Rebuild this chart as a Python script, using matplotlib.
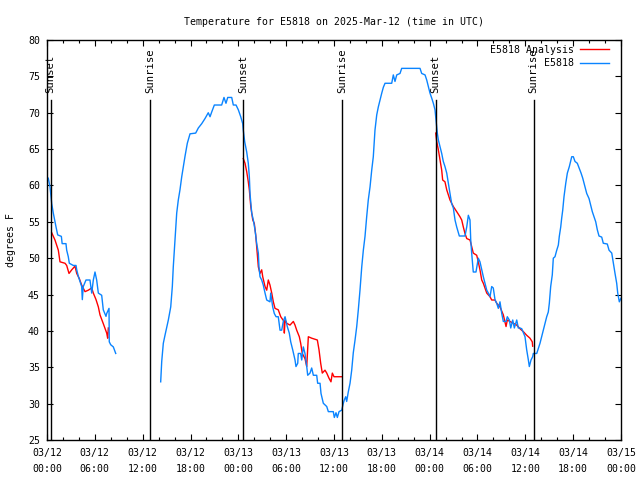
import matplotlib
matplotlib.use("Agg")
import matplotlib.pyplot as plt
from matplotlib.ticker import MultipleLocator, FixedLocator

# hours since 03/12 00:00 UTC
obs1_hours = [0.16, 0.38, 0.59, 0.79, 1.13, 1.34, 1.80, 1.90, 2.38, 2.47, 2.67, 2.80, 3.30, 3.64,
              3.73, 3.93, 4.35, 4.43, 4.55, 4.89, 5.39, 5.61, 5.81, 6.02, 6.23, 6.44, 6.86,
              7.06, 7.40, 7.49, 7.78, 7.81, 7.99, 8.32, 8.62]
obs1_temp = [61.0, 59.8, 57.5, 56.2, 54.3, 53.2, 53.0, 52.0, 52.0, 51.1, 50.2, 49.3, 49.0, 49.0,
             48.4, 47.5, 46.1, 44.3, 46.1, 47.0, 47.0, 45.2, 47.0, 48.1, 47.0, 45.2, 44.9,
             42.9, 42.0, 42.4, 43.1, 38.5, 38.1, 37.8, 36.9]

obs2_hours = [14.26, 14.39, 14.59, 14.80, 15.22, 15.52, 15.72, 15.84, 15.97, 16.14, 16.27, 16.47,
              16.68, 16.90, 17.10, 17.31, 17.60, 17.94, 18.65, 18.98, 19.41, 19.82, 20.23, 20.45,
              20.66, 20.99, 21.91, 22.20, 22.45, 22.67, 23.17, 23.37, 23.71, 24.00, 24.30, 24.55,
              24.62, 24.80, 25.05, 25.25, 25.38, 25.47, 25.68, 25.88, 26.09, 26.30, 26.51, 26.59,
              26.72, 26.93, 27.13, 27.35, 27.56, 27.97, 28.06, 28.31, 28.51, 28.73, 29.01, 29.23,
              29.44, 29.64, 29.86, 30.14, 30.39, 30.57, 30.82, 31.11, 31.23, 31.45, 31.52, 31.82,
              31.95, 32.15, 32.36, 32.58, 32.70, 32.99, 33.20, 33.41, 33.83, 33.95, 34.25, 34.37,
              34.66, 35.09, 35.29, 35.91, 36.04, 36.25, 36.42, 36.63, 36.97, 37.17, 37.29, 37.47,
              37.59, 37.79, 38.01, 38.22, 38.42, 38.64, 38.85, 39.05, 39.26, 39.48, 39.68, 39.89,
              40.10, 40.30, 40.52, 40.73, 40.93, 41.14, 41.36, 41.56, 41.77, 41.99, 42.19, 42.40,
              43.24, 43.44, 43.65, 43.87, 44.28, 44.49, 46.79, 47.00, 47.42, 47.63, 47.83, 48.04,
              48.26, 48.46, 48.67, 48.80, 48.96, 49.09, 49.30, 49.51, 49.71, 49.92, 50.14, 50.34,
              50.55, 50.76, 50.97, 51.18, 51.39, 51.72, 52.43, 52.65, 52.85, 53.06, 53.15, 53.27,
              53.47, 53.81, 54.10, 54.31, 54.53, 54.73, 54.94, 55.16, 55.36, 55.57, 55.78, 55.98,
              56.20, 56.41, 56.61, 56.82, 57.04, 57.24, 57.58, 57.74, 57.99, 58.17, 58.42, 58.62,
              58.92, 59.12, 59.33, 59.55, 59.96, 60.17, 60.38, 60.50, 60.71, 60.92, 61.00, 61.43,
              61.63, 61.84, 62.05, 62.26, 62.47, 62.68, 62.88, 63.01, 63.18, 63.38, 63.51, 63.72,
              63.94, 64.14, 64.26, 64.44, 64.56, 64.69, 64.85, 65.07, 65.27, 65.52, 65.82, 66.02,
              66.23, 66.52, 66.77, 66.99, 67.20, 67.49, 67.70, 67.99, 68.20, 68.40, 68.62, 68.83,
              69.03, 69.24, 69.58, 69.78, 70.28, 70.50, 70.84, 71.04, 71.25, 71.46, 71.59, 71.79,
              72.00]
obs2_temp = [33.0, 35.8, 38.3, 39.4, 41.5, 43.3, 46.1, 48.8, 51.1, 54.3, 56.2, 58.0,
             59.4, 61.2, 62.6, 64.0, 65.8, 67.1, 67.2, 67.9, 68.5, 69.2, 70.0, 69.45,
             70.1, 71.06, 71.06, 72.1, 71.3, 72.1, 72.1, 71.06, 71.06, 70.4, 69.45, 68.5,
             67.6, 66.0, 64.6, 63.05, 61.2, 58.8, 56.2, 55.25, 53.9, 52.05, 50.7, 48.8,
             47.45, 47.0, 46.3, 45.2, 44.25, 44.0, 45.2, 43.3, 42.4, 41.95, 41.95, 40.1,
             40.1, 41.3, 41.95, 40.6, 39.7, 38.5, 37.4, 36.0, 35.1, 35.55, 36.9, 36.9,
             36.0, 37.8, 36.9, 35.1, 33.9, 34.2, 34.9, 33.9, 33.9, 32.8, 32.8, 31.4,
             30.05, 29.6, 28.9, 28.9, 28.1, 28.75, 28.1, 28.9, 29.1, 30.05, 30.5, 30.95,
             30.3, 31.6, 32.8, 34.6, 37.0, 38.75, 40.6, 42.9, 45.6, 48.8, 51.1, 53.0,
             55.7, 58.0, 59.8, 62.1, 63.95, 67.6, 69.7, 70.8, 71.75, 72.7, 73.5, 74.05,
             74.05, 75.2, 74.3, 75.2, 75.4, 76.1, 76.1, 75.4, 75.2, 74.5, 73.6, 72.7,
             72.0, 71.3, 70.4, 69.0, 67.2, 66.25, 65.3, 64.4, 63.3, 62.6, 61.7, 60.3,
             58.9, 57.5, 56.9, 55.25, 54.3, 53.05, 53.05, 54.3, 55.9, 55.25, 52.5, 50.7,
             48.1, 48.1, 50.0, 49.5, 48.4, 47.45, 46.55, 45.6, 45.2, 44.7, 46.1, 45.9,
             44.25, 43.8, 43.1, 44.0, 42.4, 41.3, 41.3, 41.95, 41.5, 40.4, 41.5, 40.4,
             41.5, 40.4, 40.4, 40.3, 39.2, 37.4, 36.0, 35.1, 36.0, 36.45, 36.9, 36.9,
             37.6, 38.3, 39.2, 40.1, 41.05, 41.95, 42.6, 43.8, 46.1, 47.7, 50.0, 50.2,
             51.1, 51.8, 53.0, 54.3, 55.5, 56.6, 58.45, 60.3, 61.7, 62.6, 63.95, 63.95,
             63.3, 63.05, 62.35, 61.7, 61.0, 59.8, 58.9, 58.2, 57.3, 56.4, 55.7, 55.0,
             53.9, 53.05, 52.9, 52.05, 51.95, 51.1, 50.7, 49.3, 47.9, 46.55, 45.2, 44.0,
             44.5]

ana1_hours = [0.59, 1.00, 1.42, 1.63, 2.26, 2.47, 2.76, 3.10, 3.51, 3.73, 4.05, 4.35, 4.77,
              5.18, 5.61, 5.81, 6.15, 6.44, 6.65, 7.06, 7.49, 7.61, 7.69]
ana1_temp = [53.5, 52.5, 51.1, 49.5, 49.3, 49.0, 47.9, 48.4, 48.9, 47.9, 47.2, 46.3, 45.4,
             45.6, 45.9, 45.2, 44.3, 43.3, 42.2, 41.0, 39.7, 39.0, 40.4]

ana2_hours = [24.62, 24.84, 25.05, 25.25, 25.38, 25.56, 25.81, 26.00, 26.18, 26.30, 26.51, 26.72,
              26.93, 27.06, 27.35, 27.56, 27.76, 27.97, 28.19, 28.39, 28.60, 29.01, 29.32, 29.73,
              29.77, 29.86, 30.07, 30.48, 30.90, 31.11, 31.32, 31.65, 31.82, 32.02, 32.36, 32.58,
              32.78, 33.20, 33.91, 34.12, 34.33, 34.53, 34.87, 35.09, 35.37, 35.62, 35.79, 36.00,
              36.97]
ana2_temp = [63.7, 63.05, 61.9, 60.5, 59.4, 57.1, 55.25, 54.8, 53.2, 51.6, 48.8, 47.9,
             48.4, 47.45, 46.1, 45.6, 47.0, 46.3, 45.2, 44.0, 43.1, 42.9, 41.95, 41.3,
             39.7, 41.5, 41.05, 40.8, 41.3, 40.8, 40.1, 39.2, 38.3, 36.9, 36.2, 35.1,
             39.2, 39.0, 38.75, 37.4, 35.55, 34.2, 34.6, 34.2, 33.5, 33.0, 34.2, 33.7,
             33.7]

ana3_hours = [48.76, 48.89, 49.09, 49.30, 49.51, 49.63, 49.92, 50.14, 50.55, 50.97, 51.39, 51.80,
              52.02, 52.22, 52.43, 52.65, 53.06, 53.27, 53.47, 53.90, 54.10, 54.31, 54.53, 54.73,
              55.16, 55.57, 55.78, 56.20, 56.41, 56.82, 57.24, 57.58, 57.74, 58.07, 58.49, 58.92,
              59.33, 59.75, 60.17, 60.58, 60.87, 60.92]
ana3_temp = [67.2, 66.0, 64.9, 63.5, 62.1, 60.75, 60.5, 59.4, 58.0, 57.1, 56.4, 55.7,
             55.25, 54.3, 53.4, 52.7, 52.5, 51.6, 50.7, 50.4, 49.5, 48.4, 47.0, 46.55,
             45.2, 44.7, 44.25, 44.25, 43.8, 43.3, 42.2, 40.6, 41.5, 41.3, 41.05, 40.8,
             40.3, 39.9, 39.4, 39.0, 38.5, 37.9]

sun_hours = [0.46, 12.92, 24.62, 37.04, 48.76, 61.05]
sun_labels = ["Sunset", "Sunrise", "Sunset", "Sunrise", "Sunset", "Sunrise"]

xtick_hours = [0, 6, 12, 18, 24, 30, 36, 42, 48, 54, 60, 66, 72]
xtick_labels = ["03/12\n00:00", "03/12\n06:00", "03/12\n12:00", "03/12\n18:00",
                "03/13\n00:00", "03/13\n06:00", "03/13\n12:00", "03/13\n18:00",
                "03/14\n00:00", "03/14\n06:00", "03/14\n12:00", "03/14\n18:00",
                "03/15\n00:00"]

RED = "#ff0000"
BLUE = "#0a84ff"
FONT = "DejaVu Sans Mono"
FS = 7.1

fig = plt.figure(figsize=(6.4, 4.8), dpi=100)
ax = fig.add_axes([47/640, 40/480, 574/640, 400/480])

lw = 1.0
ax.plot(ana1_hours, ana1_temp, color=RED, lw=lw, label="E5818 Analysis")
ax.plot(ana2_hours, ana2_temp, color=RED, lw=lw)
ax.plot(ana3_hours, ana3_temp, color=RED, lw=lw)
ax.plot(obs1_hours, obs1_temp, color=BLUE, lw=lw, label="E5818")
ax.plot(obs2_hours, obs2_temp, color=BLUE, lw=lw)

for h, lab in zip(sun_hours, sun_labels):
    ax.plot([h, h], [25, 71.8], color="black", lw=1.0)
    ax.text(h, 72.7, lab, rotation=90, ha="center", va="bottom",
            fontsize=7.6, family=FONT)

ax.set_xlim(0, 72)
ax.set_ylim(25, 80)
ax.xaxis.set_major_locator(FixedLocator(xtick_hours))
ax.set_xticklabels(xtick_labels, fontsize=FS, family=FONT, linespacing=1.85)
ax.xaxis.set_minor_locator(MultipleLocator(2))
ax.yaxis.set_major_locator(MultipleLocator(5))
ax.tick_params(axis="x", which="major", direction="in", length=4.5, width=0.8,
               top=True, labelsize=FS, pad=5.5)
ax.tick_params(axis="y", which="major", direction="in", length=4.5, width=0.8,
               right=True, labelsize=FS, pad=5)
ax.tick_params(axis="x", which="minor", direction="in", length=2.5, width=0.8,
               top=True, bottom=True)
for lab in ax.get_yticklabels():
    lab.set_family(FONT)
for s in ax.spines.values():
    s.set_linewidth(1.0)

ax.set_ylabel("degrees F", fontsize=FS, family=FONT, labelpad=9)
ax.set_title("Temperature for E5818 on 2025-Mar-12 (time in UTC)",
             fontsize=FS, family=FONT, pad=11)

leg = ax.legend(loc="upper right", frameon=False, prop={"family": FONT, "size": FS},
                markerfirst=False, handlelength=2.9, handletextpad=0.7,
                borderaxespad=0.6, labelspacing=0.35, borderpad=0.2,
                bbox_to_anchor=(0.993, 1.0075))
for t in leg.get_texts():
    t.set_ha("right")

fig.savefig("out.png", dpi=100)
